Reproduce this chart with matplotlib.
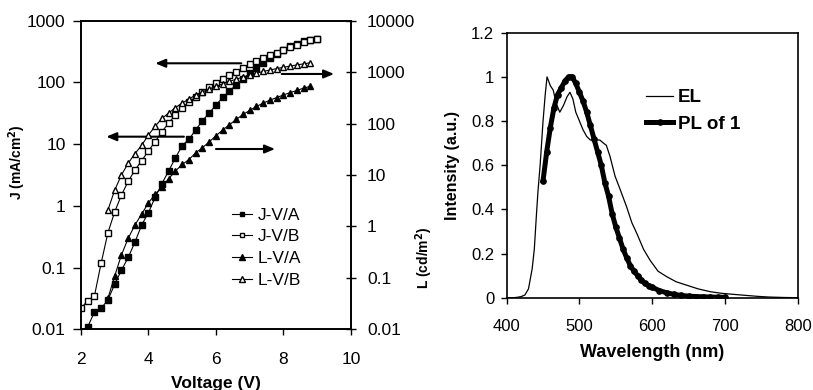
import numpy as np
import matplotlib.pyplot as plt
from matplotlib.lines import Line2D

plt.rcParams['font.family'] = ['Liberation Sans', 'DejaVu Sans']

# %% DATA
# left panel: J-V and L-V curves
volt_J = [2.0, 2.2, 2.4, 2.6, 2.8, 3.0, 3.2, 3.4, 3.6, 3.8, 4.0, 4.2, 4.4, 4.6, 4.8, 5.0, 5.2, 5.4,
          5.6, 5.8, 6.0, 6.2, 6.4, 6.6, 6.8, 7.0, 7.2, 7.4, 7.6, 7.8, 8.0, 8.2, 8.4, 8.6, 8.8, 9.0]
J_A = [0.009, 0.011, 0.019, 0.022, 0.030, 0.054, 0.091, 0.146, 0.26, 0.49, 0.78, 1.38, 2.3, 3.7, 6.0, 9.5,
       12, 17, 24, 32, 43, 57, 72, 92, 115, 140, 170, 205, 245, 290, 335, 385, 425, 465, 490, 500]
J_B = [0.022, 0.029, 0.035, 0.12, 0.37, 0.8, 1.5, 2.5, 3.8, 5.4, 7.8, 11, 16, 22, 30, 39, 48, 58,
       70, 83, 97, 112, 130, 150, 172, 195, 220, 245, 275, 305, 340, 375, 410, 445, 480, 510]

volt_L = [2.8, 3.0, 3.2, 3.4, 3.6, 3.8, 4.0, 4.2, 4.4, 4.6, 4.8, 5.0, 5.2, 5.4, 5.6, 5.8, 6.0,
          6.2, 6.4, 6.6, 6.8, 7.0, 7.2, 7.4, 7.6, 7.8, 8.0, 8.2, 8.4, 8.6, 8.8]
L_A = [0.04, 0.11, 0.28, 0.59, 1.07, 1.74, 2.9, 4.2, 5.8, 8.5, 12, 16, 20, 27, 34, 44, 58,
       75, 95, 120, 150, 180, 215, 250, 285, 320, 360, 400, 440, 490, 530]
L_B = [2.1, 5.1, 10, 17, 26, 38, 60, 89, 126, 160, 205, 250, 300, 360, 410, 470, 530,
       590, 660, 730, 800, 870, 950, 1030, 1100, 1170, 1240, 1310, 1380, 1450, 1520]

# right panel: spectra
wl_EL = [400, 410, 415, 420, 425, 430, 435, 438, 441, 443, 446, 450, 453, 455.5, 460, 464, 468, 473,
         478, 483, 487, 491, 495, 500, 505, 510, 515, 520, 528, 533, 537, 542, 549, 556, 565, 572,
         579, 588, 597, 608, 620, 633, 647, 663, 680, 695, 712, 730, 745, 760, 780, 800]
EL = [0, 0, 0.002, 0.005, 0.012, 0.04, 0.13, 0.22, 0.38, 0.48, 0.6, 0.8, 0.92, 1.0, 0.96, 0.94, 0.88, 0.84,
      0.87, 0.91, 0.93, 0.9, 0.84, 0.8, 0.76, 0.73, 0.714, 0.714, 0.714, 0.70, 0.69, 0.64, 0.55, 0.49, 0.41, 0.34,
      0.29, 0.22, 0.17, 0.12, 0.095, 0.072, 0.057, 0.04, 0.027, 0.02, 0.015, 0.01, 0.006, 0.003, 0.001, 0]

wl_PL = [450, 455, 460, 465, 470, 475, 480, 485, 490, 495, 500, 505, 510, 515, 520, 525, 530, 535, 540,
         545, 550, 555, 560, 565, 570, 575, 580, 585, 590, 595, 600, 610, 620, 630, 640, 650, 660, 670,
         680, 690, 700]
PL = [0.53, 0.66, 0.77, 0.86, 0.92, 0.95, 0.98, 1.0, 1.0, 0.97, 0.93, 0.89, 0.84, 0.78, 0.72, 0.66, 0.60,
      0.52, 0.46, 0.38, 0.32, 0.27, 0.22, 0.18, 0.145, 0.12, 0.10, 0.08, 0.065, 0.055, 0.047, 0.032,
      0.022, 0.015, 0.010, 0.007, 0.005, 0.004, 0.003, 0.002, 0.002]

# %% FIGURE
fig = plt.figure(figsize=(8.13, 3.9), dpi=100)
ax = fig.add_axes([0.0996, 0.1556, 0.3321, 0.7914])
ax2 = ax.twinx()

ms = 4.2
ax.plot(volt_J, J_A, '-s', color='black', lw=0.8, ms=ms, mfc='black')
ax.plot(volt_J, J_B, '-s', color='black', lw=0.8, ms=ms, mfc='white')
ax2.plot(volt_L, L_A, '-^', color='black', lw=0.8, ms=ms + 0.6, mfc='black')
ax2.plot(volt_L, L_B, '-^', color='black', lw=0.8, ms=ms + 0.6, mfc='white')

ax.set_yscale('log')
ax.set_ylim(0.01, 1000)
ax.set_xlim(2, 10)
ax2.set_yscale('log')
ax2.set_ylim(0.01, 10000)

ax.set_xticks([2, 4, 6, 8, 10])
ax.set_yticks([0.01, 0.1, 1, 10, 100, 1000])
ax.set_yticklabels(['0.01', '0.1', '1', '10', '100', '1000'])
ax2.set_yticks([0.01, 0.1, 1, 10, 100, 1000, 10000])
ax2.set_yticklabels(['0.01', '0.1', '1', '10', '100', '1000', '10000'])
ax.minorticks_off()
ax2.minorticks_off()
ax.tick_params(axis='x', labelsize=12.5, direction='out', length=4, width=1, pad=12)
ax.tick_params(axis='y', labelsize=12.5, direction='out', length=6, width=1, pad=5)
ax2.tick_params(axis='y', labelsize=12.5, direction='inout', length=7, width=1, pad=8)
for a in (ax, ax2):
    for s in a.spines.values():
        s.set_linewidth(1.2)

ax.set_xlabel('Voltage (V)', fontsize=12.5, fontweight='bold')
ax.xaxis.set_label_coords(0.5, -0.152)
ax.set_ylabel('J (mA/cm$^\\mathbf{2}$)', fontsize=10, fontweight='bold')
ax.yaxis.set_label_coords(-0.195, 0.542)
ax2.set_ylabel('L (cd/m$^\\mathbf{2}$)', fontsize=10, fontweight='bold')
ax2.yaxis.set_label_coords(1.23, 0.231)

# arrows pointing to the axis each curve belongs to
arr = dict(arrowstyle='-|>,head_length=0.6,head_width=0.25', lw=1.5, color='black', shrinkA=0, shrinkB=0)
ax.annotate('', xy=(4.2, 204), xytext=(6.75, 204), arrowprops=arr)
ax.annotate('', xy=(2.75, 13.2), xytext=(5.05, 13.2), arrowprops=arr)
ax2.annotate('', xy=(9.5, 920), xytext=(7.95, 920), arrowprops=arr)
ax2.annotate('', xy=(7.75, 32), xytext=(6.0, 32), arrowprops=arr)

handles = [
    Line2D([], [], color='black', lw=0.8, marker='s', ms=3.5, mfc='black'),
    Line2D([], [], color='black', lw=0.8, marker='s', ms=3.5, mfc='white'),
    Line2D([], [], color='black', lw=0.8, marker='^', ms=4, mfc='black'),
    Line2D([], [], color='black', lw=0.8, marker='^', ms=4, mfc='white'),
]
ax2.legend(handles, ['J-V/A', 'J-V/B', 'L-V/A', 'L-V/B'], loc='upper left',
           bbox_to_anchor=(0.275, 0.49), bbox_transform=fig.transFigure, frameon=False,
           fontsize=12.5, handlelength=1.15, handletextpad=0.3, labelspacing=0.38, borderpad=0)

# %% RIGHT PANEL
bx = fig.add_axes([0.6232, 0.2367, 0.3580, 0.6795])
bx.plot(wl_EL, EL, '-', color='black', lw=0.9, label='EL')
bx.plot(wl_PL, PL, '-o', color='black', lw=3.6, ms=3.8, label='PL of 1')
bx.set_xlim(400, 800)
bx.set_ylim(0, 1.2)
bx.set_xticks([400, 500, 600, 700, 800])
bx.set_yticks([0, 0.2, 0.4, 0.6, 0.8, 1.0, 1.2])
bx.set_yticklabels(['0', '0.2', '0.4', '0.6', '0.8', '1', '1.2'])
bx.tick_params(axis='x', labelsize=12, direction='out', length=4, width=1, pad=11)
bx.tick_params(axis='y', labelsize=12, direction='out', length=4, width=1, pad=5)
for s in bx.spines.values():
    s.set_linewidth(1.2)
bx.set_xlabel('Wavelength (nm)', fontsize=13, fontweight='bold')
bx.xaxis.set_label_coords(0.5, -0.175)
bx.set_ylabel('Intensity (a.u.)', fontsize=11.5, fontweight='bold')
bx.yaxis.set_label_coords(-0.16, 0.5)
bx.legend(loc='upper left', bbox_to_anchor=(0.783, 0.795), bbox_transform=fig.transFigure,
          frameon=False, prop={'size': 13.5, 'weight': 'bold'}, handlelength=1.45,
          handletextpad=0.25, labelspacing=0.5, borderpad=0)

fig.savefig('out.png', dpi=100)
